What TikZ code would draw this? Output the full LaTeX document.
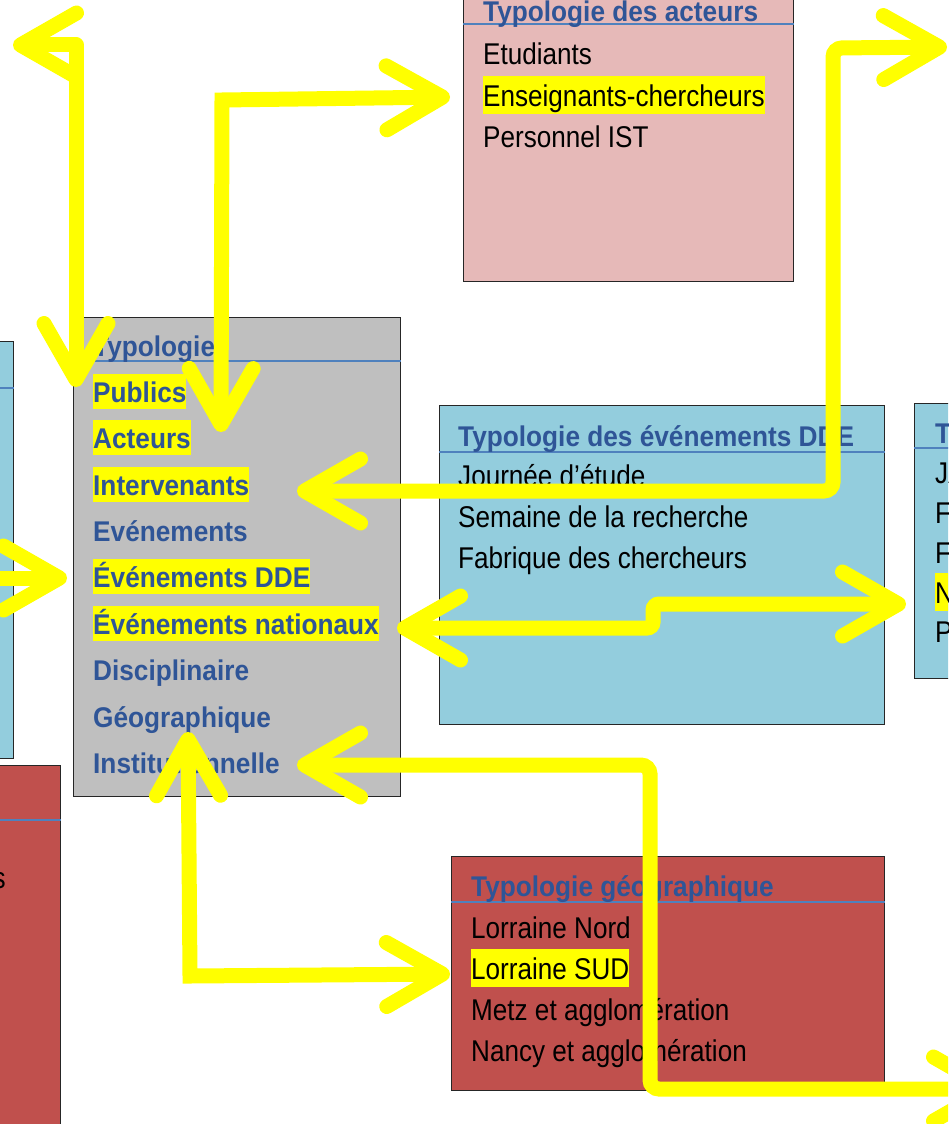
\documentclass[tikz,border=0pt]{standalone}
\usepackage{fontspec}
\setmainfont{Liberation Sans}
\newfontfamily\regf[FakeStretch=0.87]{Liberation Sans}
\newfontfamily\boldf[FakeStretch=0.92]{Liberation Sans Bold}
\usetikzlibrary{arrows.meta}
\definecolor{pinkc}{HTML}{E6B9B8}
\definecolor{greyc}{HTML}{BFBFBF}
\definecolor{bluec}{HTML}{93CDDD}
\definecolor{redc}{HTML}{C0504D}
\definecolor{titc}{HTML}{2F5597}
\definecolor{linec}{HTML}{4F81BD}
\definecolor{hly}{HTML}{FFFF00}
\newcommand\hl[1]{{\setlength\fboxsep{0pt}\colorbox{hly}{\rule[-0.26em]{0pt}{1.26em}#1}}}
\begin{document}
\begin{tikzpicture}[x=1pt,y=-1pt,
  panel/.style={draw=black!85, line width=1.3pt, inner sep=0pt, anchor=north west},
  hdr/.style={draw=linec, line width=1.5pt},
  ttl/.style={anchor=base west, inner sep=0pt, font=\boldf\fontsize{28.5}{34}\selectfont, text=titc},
  bitm/.style={anchor=base west, inner sep=0pt, font=\boldf\fontsize{28.5}{34}\selectfont, text=titc},
  itm/.style={anchor=base west, inner sep=0pt, font=\regf\fontsize{30}{36}\selectfont, text=black},
  >={Straight Barb[length=56pt,width=64pt,line width=15pt,round]},
  conn/.style={draw=hly, line width=15pt, line cap=round,
    preaction={draw=black, draw opacity=0.18, transform canvas={shift={(2pt,-3pt)}}}}
]
\useasboundingbox (0,0) rectangle (948,1124);
\clip (0,0) rectangle (948,1124);

% ---------- boxes ----------
\node[panel, fill=bluec, minimum width=60pt, minimum height=417pt] (lblue) at (-47,341) {};
\draw[hdr] (lblue.west |- 0,388) -- (lblue.east |- 0,388);

\node[panel, fill=redc, minimum width=100pt, minimum height=400pt] (lred) at (-40,765) {};
\draw[hdr] (lred.west |- 0,820) -- (lred.east |- 0,820);
\node[itm, anchor=base east] (lreds) at (6,888) {s};

\node[panel, fill=pinkc, minimum width=330pt, minimum height=311pt] (pbox) at (463,-30) {};
\draw[hdr] (pbox.west |- 0,24) -- (pbox.east |- 0,24);
\node[ttl] (ptitle) at (483,22) {Typologie des acteurs};
\node[itm] (p1) at (483,65) {Etudiants};
\node[itm] (p2) at (483,106) {\hl{Enseignants-chercheurs}};
\node[itm] (p3) at (483,147) {Personnel IST};

\node[panel, fill=greyc, minimum width=327pt, minimum height=479pt] (gbox) at (73,317) {};
\draw[hdr] (gbox.west |- 0,361) -- (gbox.east |- 0,361);
\node[ttl] (gtitle) at (93,356) {Typologie};
\node[bitm] (g1) at (93,402) {\hl{Publics}};
\node[bitm] (g2) at (93,448) {\hl{Acteurs}};
\node[bitm] (g3) at (93,495) {\hl{Intervenants}};
\node[bitm] (g4) at (93,541) {Evénements};
\node[bitm] (g5) at (93,587) {\hl{Événements DDE}};
\node[bitm] (g6) at (93,634) {\hl{Événements nationaux}};
\node[bitm] (g7) at (93,680) {Disciplinaire};
\node[bitm] (g8) at (93,727) {Géographique};
\node[bitm] (g9) at (93,773) {Institutionnelle};

\node[panel, fill=bluec, minimum width=445pt, minimum height=319pt] (dbox) at (439,405) {};
\draw[hdr] (dbox.west |- 0,452) -- (dbox.east |- 0,452);
\node[ttl] (dtitle) at (458,446) {Typologie des événements DDE};
\node[itm] (d1) at (458,486) {Journée d’étude};
\node[itm] (d2) at (458,527) {Semaine de la recherche};
\node[itm] (d3) at (458,568) {Fabrique des chercheurs};

\node[panel, fill=bluec, minimum width=100pt, minimum height=275pt] (nbox) at (914,403) {};
\draw[hdr] (nbox.west |- 0,448) -- (nbox.east |- 0,448);
\node[ttl] (ntitle) at (935,443) {T};
\node[itm] (n1) at (935,483) {JA};
\node[itm] (n2) at (935,523) {F};
\node[itm] (n3) at (935,563) {F};
\node[itm] (n4) at (935,603) {\hl{N}};
\node[itm] (n5) at (935,642) {P};

\node[panel, fill=redc, minimum width=433pt, minimum height=234pt] (rbox) at (451,856) {};
\draw[hdr] (rbox.west |- 0,902) -- (rbox.east |- 0,902);
\node[ttl] (rtitle) at (471,896) {Typologie géographique};
\node[itm] (r1) at (471,938) {Lorraine Nord};
\node[itm] (r2) at (471,979) {\hl{Lorraine SUD}};
\node[itm] (r3) at (471,1020) {Metz et agglomération};
\node[itm] (r4) at (471,1061) {Nancy et agglomération};

% ---------- connector end points ----------
\coordinate (a1s) at (76,387);   \coordinate (a1e) at (13,45);
\coordinate (a2s) at (221,432);  \coordinate (a2e) at (450,97);
\coordinate (a3s) at (297,491);  \coordinate (a3e) at (947,47);
\coordinate (a4s) at (397,628);  \coordinate (a4e) at (906,604);
\coordinate (a5s) at (297,765);  \coordinate (a5e) at (997,1089);
\coordinate (a6s) at (188,732);  \coordinate (a6e) at (450,974);
\coordinate (a7s) at (-40,578);  \coordinate (a7e) at (67,578);

% ---------- connectors ----------
\draw[conn, <->, line join=round] (a1s) -- (76,45) -- (a1e);
\draw[conn, <->, line join=miter] (a2s) -- (222,100) -- (a2e);
\draw[conn, <->, rounded corners=9pt] (a3s) -- (833,491) -- (833,48) -- (a3e);
\draw[conn, <->, rounded corners=6pt] (a4s) -- (653,628) -- (653,604) -- (a4e);
\draw[conn, <->, rounded corners=9pt] (a5s) -- (650,765) -- (650,1089) -- (a5e);
\draw[conn, <->, line join=miter] (a6s) -- (190,976) -- (a6e);
\draw[conn, ->] (a7s) -- (a7e);
\end{tikzpicture}
\end{document}
